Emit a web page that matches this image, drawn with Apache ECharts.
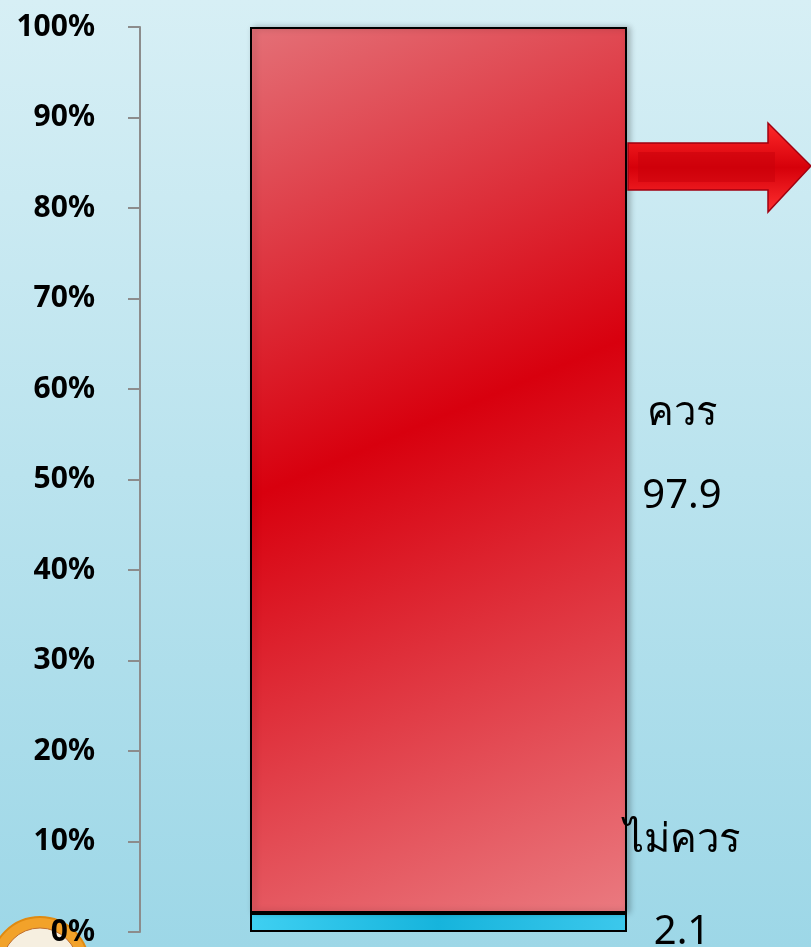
<!DOCTYPE html>
<html><head><meta charset="utf-8">
<script src="https://cdn.jsdelivr.net/npm/echarts@6/dist/echarts.min.js"></script>
<style>html,body{margin:0;padding:0;overflow:hidden;}#c{width:811px;height:947px;}</style>
</head><body><div id="c"></div>
<script>
const categories = ['ความคิดเห็น'];
const seriesNames = ['ไม่ควร', 'ควร'];
const notShouldValues = [2.1];
const shouldValues = [97.9];
const yTickLabels = ['0%','10%','20%','30%','40%','50%','60%','70%','80%','90%','100%'];

const chart = echarts.init(document.getElementById('c'));
const font = '"Noto Sans", "DejaVu Sans", sans-serif';
chart.setOption({
  backgroundColor: new echarts.graphic.LinearGradient(0,0,0,1,[
    {offset:0,color:'#d7eff5'},{offset:1,color:'#9dd7e7'}]),
  animation:false,
  grid:{left:140, right:74, top:27, bottom:10, containLabel:false},
  xAxis:{type:'category', data:categories, show:false},
  yAxis:{type:'value', min:0, max:100, interval:10, z:10,
    axisLine:{show:true, lineStyle:{color:'#8c8c8c', width:2}},
    axisTick:{show:true, inside:false, length:12, lineStyle:{color:'#8c8c8c', width:2}},
    splitLine:{show:false},
    axisLabel:{margin:45, fontSize:30, fontWeight:'bold', color:'#000', fontFamily:font,
      formatter:(v)=>yTickLabels[Math.round(v/10)]}
  },
  series:[
    {name:seriesNames[0], type:'bar', stack:'s', barWidth:377, data:notShouldValues,
      itemStyle:{color:new echarts.graphic.LinearGradient(0,0,1,0,[
        {offset:0,color:'#3fd0f2'},{offset:0.5,color:'#16b4dc'},{offset:1,color:'#3cc8ec'}]),
        borderColor:'#000', borderWidth:2},
      label:{show:true, position:'right', distance:55, align:'center',
        offset:[0,-36], lineHeight:46, fontSize:40, color:'#000', fontFamily:font,
        formatter:(p)=>p.seriesName+'\n\n'+p.value}
    },
    {name:seriesNames[1], type:'bar', stack:'s', barWidth:377, data:shouldValues,
      itemStyle:{color:new echarts.graphic.LinearGradient(0,0,1,1,[
        {offset:0,color:'#e47077'},{offset:0.45,color:'#d8000e'},{offset:1,color:'#ea7a80'}]),
        borderColor:'#000', borderWidth:2,
        shadowColor:'rgba(0,0,0,0.25)', shadowBlur:6, shadowOffsetX:3},
      label:{show:true, position:'right', distance:55, align:'center',
        offset:[0,-15], lineHeight:41.5, fontSize:40, color:'#000', fontFamily:font,
        formatter:(p)=>p.seriesName+'\n\n'+p.value}
    }
  ],
  graphic:[
    {type:'polygon', z:10,
      shape:{points:[[628,143],[768,143],[768,123],[811,166],[768,212],[768,190],[628,190]]},
      style:{fill:new echarts.graphic.LinearGradient(0,0,0,1,[
        {offset:0,color:'#ff2a2a'},{offset:0.5,color:'#d6000a'},{offset:1,color:'#ff3030'}]),
        stroke:'#a00010', lineWidth:1.5}},
    {type:'polygon', z:11,
      shape:{points:[[638,152],[775,152],[775,182],[638,182]]},
      style:{fill:'rgba(200,0,10,0.5)'}},
    {type:'circle', z:-1, shape:{cx:40, cy:966, r:49},
      style:{fill:'#f2a22a', stroke:'#e08a10', lineWidth:2}},
    {type:'circle', z:-1, shape:{cx:40, cy:966, r:38},
      style:{fill:'#f6efe0', stroke:'#c07030', lineWidth:1}}
  ]
});
</script></body></html>
